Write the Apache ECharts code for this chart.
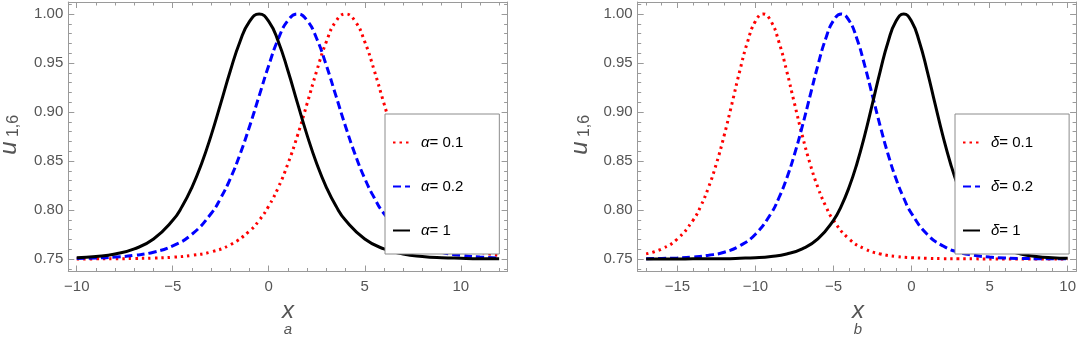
<!DOCTYPE html>
<html>
<head>
<meta charset="utf-8">
<script src="https://cdn.jsdelivr.net/npm/echarts@6/dist/echarts.min.js"></script>
<style>
html, body { margin: 0; padding: 0; background: #fff; }
#main { width: 1079px; height: 337px; }
</style>
</head>
<body>
<div id="main"></div>
<script>
// panel a : u(1,6) for several alpha
var alphaRed = [[-10,0.7500],[-9,0.7501],[-8,0.7502],[-7,0.7505],[-6,0.7509],[-5,0.7518],[-4,0.7537],[-3,0.7572],[-2,0.7645],[-1,0.7785],[-0.5,0.7894],[0,0.8040],[0.5,0.8231],[1,0.8472],[1.5,0.8761],[2,0.9087],[2.5,0.9420],[3,0.9717],[3.5,0.9925],[4,1.0000],[4.5,0.9925],[5,0.9717],[5.5,0.9420],[6,0.9087],[6.5,0.8761],[7,0.8472],[7.5,0.8231],[8,0.8040],[8.5,0.7894],[9,0.7785],[10,0.7645],[11,0.7572],[12,0.7537]];
var alphaBlue = [[-10,0.7505],[-9,0.7510],[-8,0.7519],[-7,0.7537],[-6,0.7569],[-5,0.7634],[-4,0.7752],[-3,0.7964],[-2.5,0.8122],[-2,0.8321],[-1.5,0.8566],[-1,0.8852],[-0.5,0.9164],[0,0.9475],[0.5,0.9747],[1,0.9933],[1.5,1.0000],[2,0.9933],[2.5,0.9747],[3,0.9475],[3.5,0.9164],[4,0.8852],[4.5,0.8566],[5,0.8321],[5.5,0.8122],[6,0.7964],[7,0.7752],[8,0.7634],[9,0.7569],[10,0.7537],[11,0.7519],[12,0.7510]];
var alphaBlack = [[-10,0.7513],[-9,0.7526],[-8,0.7551],[-7,0.7603],[-6,0.7704],[-5,0.7894],[-4.5,0.8040],[-4,0.8231],[-3.5,0.8472],[-3,0.8761],[-2.5,0.9087],[-2,0.9420],[-1.5,0.9717],[-1,0.9925],[-0.5,1.0000],[0,0.9925],[0.5,0.9717],[1,0.9420],[1.5,0.9087],[2,0.8761],[2.5,0.8472],[3,0.8231],[3.5,0.8040],[4,0.7894],[5,0.7704],[6,0.7603],[7,0.7551],[8,0.7526],[9,0.7513],[10,0.7507],[11,0.7503],[12,0.7502]];

// panel b : u(1,6) for several delta
var deltaRed = [[-17,0.7552],[-16,0.7603],[-15,0.7704],[-14,0.7894],[-13.5,0.8040],[-13,0.8231],[-12.5,0.8472],[-12,0.8761],[-11.5,0.9087],[-11,0.9420],[-10.5,0.9717],[-10,0.9925],[-9.5,1.0000],[-9,0.9925],[-8.5,0.9717],[-8,0.9420],[-7.5,0.9087],[-7,0.8761],[-6.5,0.8472],[-6,0.8231],[-5.5,0.8040],[-5,0.7894],[-4,0.7704],[-3,0.7603],[-2,0.7551],[-1,0.7526],[0,0.7513],[1,0.7507],[2,0.7503],[3,0.7502],[4,0.7501],[6,0.7500],[8,0.7500],[10,0.7500]];
var deltaBlue = [[-17,0.7503],[-16,0.7505],[-15,0.7510],[-14,0.7519],[-13,0.7537],[-12,0.7569],[-11,0.7634],[-10,0.7752],[-9,0.7964],[-8.5,0.8122],[-8,0.8321],[-7.5,0.8566],[-7,0.8852],[-6.5,0.9164],[-6,0.9475],[-5.5,0.9747],[-5,0.9933],[-4.5,1.0000],[-4,0.9933],[-3.5,0.9747],[-3,0.9475],[-2.5,0.9164],[-2,0.8852],[-1.5,0.8566],[-1,0.8321],[-0.5,0.8122],[0,0.7964],[1,0.7752],[2,0.7634],[3,0.7569],[4,0.7537],[5,0.7519],[6,0.7510],[7,0.7505],[8,0.7503],[9,0.7502],[10,0.7501]];
var deltaBlack = [[-17,0.7500],[-15,0.7500],[-14,0.7501],[-13,0.7502],[-12,0.7503],[-11,0.7507],[-10,0.7513],[-9,0.7526],[-8,0.7551],[-7,0.7603],[-6,0.7704],[-5,0.7894],[-4.5,0.8040],[-4,0.8231],[-3.5,0.8472],[-3,0.8761],[-2.5,0.9087],[-2,0.9420],[-1.5,0.9717],[-1,0.9925],[-0.5,1.0000],[0,0.9925],[0.5,0.9717],[1,0.9420],[1.5,0.9087],[2,0.8761],[2.5,0.8472],[3,0.8231],[3.5,0.8040],[4,0.7894],[5,0.7704],[6,0.7603],[7,0.7551],[8,0.7526],[9,0.7513],[10,0.7507]];

var alphaNames = ['α= 0.1', 'α= 0.2', 'α= 1'];
var deltaNames = ['δ= 0.1', 'δ= 0.2', 'δ= 1'];

// ticks
var aXMajor = [-10, -5, 0, 5, 10];
var aXMinor = [-10,-9,-8,-7,-6,-5,-4,-3,-2,-1,0,1,2,3,4,5,6,7,8,9,10,11,12];
var bXMajor = [-15, -10, -5, 0, 5, 10];
var bXMinor = [-17,-16,-15,-14,-13,-12,-11,-10,-9,-8,-7,-6,-5,-4,-3,-2,-1,0,1,2,3,4,5,6,7,8,9,10];
var yMajor = [0.75, 0.80, 0.85, 0.90, 0.95, 1.00];
var yMinor = [0.74,0.75,0.76,0.77,0.78,0.79,0.80,0.81,0.82,0.83,0.84,0.85,0.86,0.87,0.88,0.89,0.90,0.91,0.92,0.93,0.94,0.95,0.96,0.97,0.98,0.99,1.00,1.01];

var FRAME = '#9a9a9a';
var LABEL = '#555';
var FONT = 'Liberation Sans';
var Y_MIN = 0.7372, Y_MAX = 1.0122;

function minus(v) {
	return v < 0 ? '\u2212' + (-v) : String(v);
}

// one side of the frame: a major axis (line, long ticks, labels) and a minor one (short ticks)
function side(gridIndex, pos, min, max, majors, minors, fmt, margin) {
	var major = {
		type: 'value', gridIndex: gridIndex, position: pos, min: min, max: max,
		axisLine: { show: true, onZero: false, lineStyle: { color: FRAME, width: 1 } },
		axisTick: { show: true, inside: true, length: 6, customValues: majors, lineStyle: { color: FRAME, width: 1 } },
		axisLabel: fmt ? { show: true, customValues: majors, formatter: fmt, color: LABEL, fontSize: 15, fontFamily: FONT, margin: margin } : { show: false },
		splitLine: { show: false }
	};
	var minor = {
		type: 'value', gridIndex: gridIndex, position: pos, min: min, max: max,
		axisLine: { show: false, onZero: false },
		axisTick: { show: true, inside: true, length: 3.5, customValues: minors, lineStyle: { color: FRAME, width: 1 } },
		axisLabel: { show: false },
		splitLine: { show: false }
	};
	return [major, minor];
}

var yFmt = function (v) { return v.toFixed(2); };

var xAxes = [].concat(
	side(0, 'bottom', -10.44, 12.44, aXMajor, aXMinor, minus, 8),
	side(0, 'top', -10.44, 12.44, aXMajor, aXMinor, null),
	side(1, 'bottom', -17.54, 10.54, bXMajor, bXMinor, minus, 8),
	side(1, 'top', -17.54, 10.54, bXMajor, bXMinor, null)
);
var yAxes = [].concat(
	side(0, 'left', Y_MIN, Y_MAX, yMajor, yMinor, yFmt, 5),
	side(0, 'right', Y_MIN, Y_MAX, yMajor, yMinor, null),
	side(1, 'left', Y_MIN, Y_MAX, yMajor, yMinor, yFmt, 5),
	side(1, 'right', Y_MIN, Y_MAX, yMajor, yMinor, null)
);

function curve(name, data, color, width, dash, axisIndex) {
	return {
		name: name, type: 'line', data: data,
		xAxisIndex: axisIndex, yAxisIndex: axisIndex,
		symbol: 'none', smooth: true, animation: false,
		lineStyle: { color: color, width: width, type: dash, cap: 'butt' },
		itemStyle: { color: color }
	};
}

function legendBox(left, names) {
	return {
		data: names, left: left, top: 114, orient: 'vertical',
		backgroundColor: '#fff', borderColor: '#8c8c8c', borderWidth: 1, borderRadius: 0,
		padding: [21, 36, 16, 7], itemGap: 29, itemWidth: 17, itemHeight: 14,
		selectedMode: false,
		// hide the circle marker, keep the dashed line sample
		itemStyle: { color: 'rgba(0,0,0,0)', borderColor: 'rgba(0,0,0,0)', borderWidth: 0 },
		textStyle: {
			fontFamily: FONT, fontSize: 15, color: '#000', lineHeight: 14,
			rich: { g: { fontFamily: FONT, fontSize: 15, fontStyle: 'italic', color: '#000', lineHeight: 14, padding: [0, 0, 0, 6] } }
		},
		formatter: function (n) { return '{g|' + n.charAt(0) + '}' + n.slice(1); }
	};
}

function label(x, y, text, size, italic, rot) {
	return {
		type: 'text', x: x, y: y, rotation: rot || 0, silent: true,
		style: {
			text: text, fill: LABEL, align: 'center', verticalAlign: 'middle',
			font: (italic ? 'italic ' : '') + size + 'px "' + FONT + '"'
		}
	};
}

var option = {
	backgroundColor: '#fff',
	animation: false,
	grid: [
		{ left: 68.3, top: 2, width: 439.3, height: 269.5 },
		{ left: 637.7, top: 2, width: 440, height: 269.5 }
	],
	xAxis: xAxes,
	yAxis: yAxes,
	legend: [legendBox(385, alphaNames), legendBox(955, deltaNames)],
	series: [
		curve(alphaNames[0], alphaRed, '#ff0000', 3, [2.5, 4], 0),
		curve(alphaNames[1], alphaBlue, '#0000ff', 3, [8, 4], 0),
		curve(alphaNames[2], alphaBlack, '#000000', 3, 'solid', 0),
		curve(deltaNames[0], deltaRed, '#ff0000', 3, [2.5, 4], 4),
		curve(deltaNames[1], deltaBlue, '#0000ff', 3, [8, 4], 4),
		curve(deltaNames[2], deltaBlack, '#000000', 3, 'solid', 4)
	],
	graphic: [
		label(9.5, 148, 'u', 24, true, Math.PI / 2),
		label(14, 126, '1,6', 16, false, Math.PI / 2),
		label(580.3, 148, 'u', 24, true, Math.PI / 2),
		label(584.5, 126, '1,6', 16, false, Math.PI / 2),
		label(288, 311, 'x', 24, true),
		label(288, 330, 'a', 15, true),
		label(858, 311, 'x', 24, true),
		label(858, 330, 'b', 15, true)
	]
};

var chart = echarts.init(document.getElementById('main'));
chart.setOption(option);
</script>
</body>
</html>
